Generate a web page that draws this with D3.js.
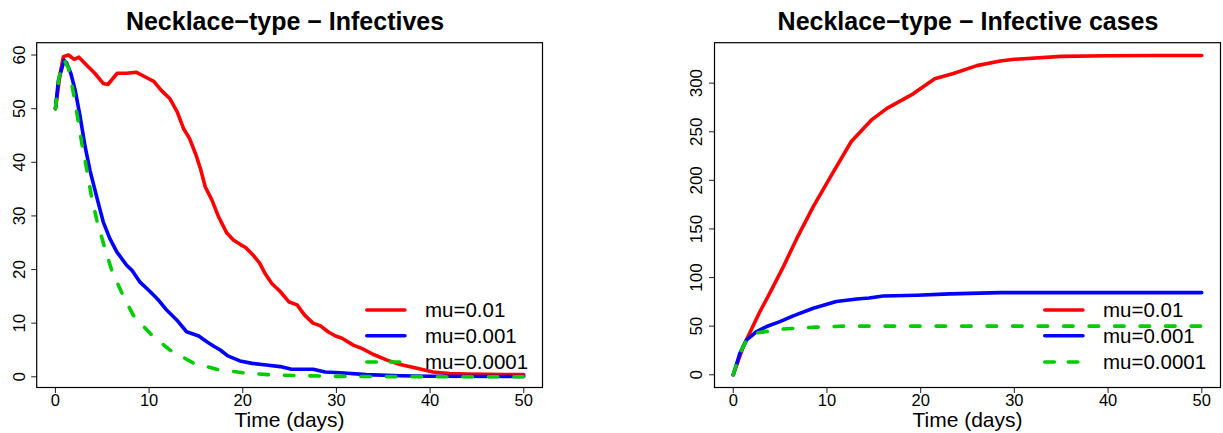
<!DOCTYPE html>
<html>
<head>
<meta charset="utf-8">
<script src="https://cdn.jsdelivr.net/npm/d3@7"></script>
<style>
  html, body { margin: 0; padding: 0; background: #fff; }
  svg { display: block; font-family: "Liberation Sans", Arial, Helvetica, sans-serif; }
</style>
</head>
<body>
<svg id="chart" width="1223" height="433"></svg>
<script>
// ---------------- DATA ----------------
const seriesNames = ["mu=0.01", "mu=0.001", "mu=0.0001"];
const seriesColors = ["#ff0000", "#0000ff", "#00cd00"];

// Left panel: Infectives
const infRedT  = [0,0.5,0.85,1.4,2.0,2.5,3.5,4.2,5.1,5.6,6.6,7.6,8.6,9.6,10.5,11.3,12.2,13.0,13.7,14.3,15.0,15.5,16.0,16.7,17.4,18.3,19.0,19.8,20.3,21.1,21.8,22.4,23.1,24.0,24.9,25.8,26.6,27.5,28.3,29.1,29.9,30.6,31.8,32.7,33.9,35.4,36.8,38.6,40.3,42.1,44,46,48,50];
const infRedV  = [50,56.5,59.7,60.0,59.2,59.6,57.8,56.6,54.7,54.5,56.6,56.6,56.8,55.9,55.1,53.4,51.9,49.4,46.2,44.5,41.4,38.7,35.4,33.0,29.9,26.8,25.5,24.6,24.1,22.7,21.2,19.2,17.4,15.9,14.0,13.4,11.5,10.0,9.5,8.4,7.6,7.2,5.9,5.3,4.2,3.1,2.3,1.6,0.9,0.6,0.5,0.45,0.4,0.4];
const infBlueT = [0,0.32,0.93,1.2,1.64,2.1,2.64,3.17,3.7,4.4,5.1,5.8,6.55,7.6,8.15,9.0,10.1,11.0,11.9,12.95,14.0,15.3,16.2,17.0,17.6,18.4,19.7,21.0,22.5,24.0,25.2,27.5,28.8,30.4,33.2,36.8,40,50];
const infBlueV = [50,55.3,59.0,58.5,56.6,53.5,48.5,42.9,38.4,33.6,28.9,25.8,23.3,20.8,19.9,17.7,15.9,14.3,12.4,10.6,8.4,7.6,6.5,5.6,5.0,3.9,2.95,2.5,2.2,1.9,1.4,1.4,0.9,0.75,0.4,0.2,0.1,0.05];
const infGreenT = [0,0.4,0.95,1.4,1.86,2.35,2.82,3.35,3.88,4.42,5.12,6.0,7.1,8.3,10.1,12.2,14.7,17.2,20.1,22.6,26,30,35,50];
const infGreenV = [50,56,59,57.5,53.5,48.5,43.5,38.6,33.3,29.2,24.9,19.9,15.6,11.5,8.1,5.0,2.6,1.4,0.75,0.4,0.2,0.08,0.03,0];

// Right panel: Infective cases (cumulative)
const casRedT  = [0,1.07,2.85,3.9,5.34,6.77,8.54,10.7,12.6,14.8,16.4,19.2,21.5,23.5,26.0,28.5,30,35,40,45,50];
const casRedV  = [0,29,65,84,111,140,173,209,240,262.5,274,289,304.6,310,318,322.7,324.5,327.5,328.2,328.5,328.5];
const casBlueT = [0,0.71,1.43,2.5,3.56,4.98,6.4,8.54,11.0,13.2,14.5,16.0,19.6,23.1,28.5,35,50];
const casBlueV = [0,22,36,44.5,49.6,54.7,60.6,68.4,75.3,78,79,81,81.8,83.2,84.5,84.5,84.5];
const casGreenT = [0,0.71,1.43,2.5,5.3,8.5,11.7,15,50];
const casGreenV = [0,22,36,43,47,48.8,50,50,50];

const xTicks = [0,10,20,30,40,50];
const yTicksLeft = [0,10,20,30,40,50,60];
const yTicksRight = [0,50,100,150,200,250,300];

const titleLeft = "Necklace\u2212type \u2212 Infectives";
const titleRight = "Necklace\u2212type \u2212 Infective cases";
const xLabel = "Time (days)";

// ---------------- DRAW ----------------
const svg = d3.select("#chart");

function zip(t, v) { return t.map((d, i) => ({ t: d, v: v[i] })); }

function panel(opts) {
  const { left, right, top, bottom, ydom, yticks, title, titleX, series } = opts;
  const x = d3.scaleLinear().domain([-2, 52]).range([left, right]);
  const y = d3.scaleLinear().domain(ydom).range([bottom, top]);
  const g = svg.append("g");

  // title
  g.append("text").attr("x", titleX).attr("y", 30)
    .attr("text-anchor", "middle").attr("font-weight", "bold")
    .attr("font-size", 25).text(title);

  // x axis ticks + labels
  const xa = g.append("g");
  xa.selectAll("line").data(xTicks).join("line")
    .attr("x1", d => x(d)).attr("x2", d => x(d))
    .attr("y1", bottom).attr("y2", bottom + 5.5)
    .attr("stroke", "#333").attr("stroke-width", 1.1);
  xa.selectAll("text").data(xTicks).join("text")
    .attr("x", d => x(d)).attr("y", 406)
    .attr("text-anchor", "middle").attr("font-size", 16.5).text(d => d);

  // y axis ticks + labels
  const ya = g.append("g");
  ya.selectAll("line").data(yticks).join("line")
    .attr("x1", left - 5.5).attr("x2", left)
    .attr("y1", d => y(d)).attr("y2", d => y(d))
    .attr("stroke", "#333").attr("stroke-width", 1.1);
  ya.selectAll("text").data(yticks).join("text")
    .attr("transform", d => `translate(${left - 18},${y(d)}) rotate(-90)`)
    .attr("dy", "0.35em")
    .attr("text-anchor", "middle").attr("font-size", 17).text(d => d);

  // x label
  g.append("text").attr("x", (left + right) / 2).attr("y", 427)
    .attr("text-anchor", "middle").attr("font-size", 21).text(xLabel);

  // lines
  const line = d3.line().x(d => x(d.t)).y(d => y(d.v));
  series.forEach((s, i) => {
    g.append("path").datum(s)
      .attr("d", line)
      .attr("fill", "none")
      .attr("stroke", seriesColors[i])
      .attr("stroke-width", 3.6)
      .attr("stroke-linejoin", "round")
      .attr("stroke-linecap", "round")
      .attr("stroke-dasharray", i === 2 ? "9.5,16" : null);
  });

  // legend
  const lg = g.append("g");
  const ly = [310, 335.8, 362];
  seriesNames.forEach((name, i) => {
    lg.append("line")
      .attr("x1", right - 175.7).attr("x2", right - 137.6)
      .attr("y1", ly[i]).attr("y2", ly[i])
      .attr("stroke", seriesColors[i]).attr("stroke-width", 3.6)
      .attr("stroke-linecap", "round")
      .attr("stroke-dasharray", i === 2 ? "9.5,14" : null);
    lg.append("text").attr("x", right - 117.5).attr("y", ly[i])
      .attr("dy", "0.35em").attr("font-size", 20.5).text(name);
  });

  // box
  g.append("rect").attr("x", left).attr("y", top)
    .attr("width", right - left).attr("height", bottom - top)
    .attr("fill", "none").attr("stroke", "#000").attr("stroke-width", 1.2);
}

panel({
  left: 36.7, right: 542.5, top: 42.7, bottom: 387.5,
  ydom: [-2.0, 62.3], yticks: yTicksLeft,
  title: titleLeft, titleX: 285,
  series: [zip(infRedT, infRedV), zip(infBlueT, infBlueV), zip(infGreenT, infGreenV)]
});

panel({
  left: 714.5, right: 1220.5, top: 42.7, bottom: 387.5,
  ydom: [-13.1, 341.6], yticks: yTicksRight,
  title: titleRight, titleX: 968,
  series: [zip(casRedT, casRedV), zip(casBlueT, casBlueV), zip(casGreenT, casGreenV)]
});
</script>
</body>
</html>
